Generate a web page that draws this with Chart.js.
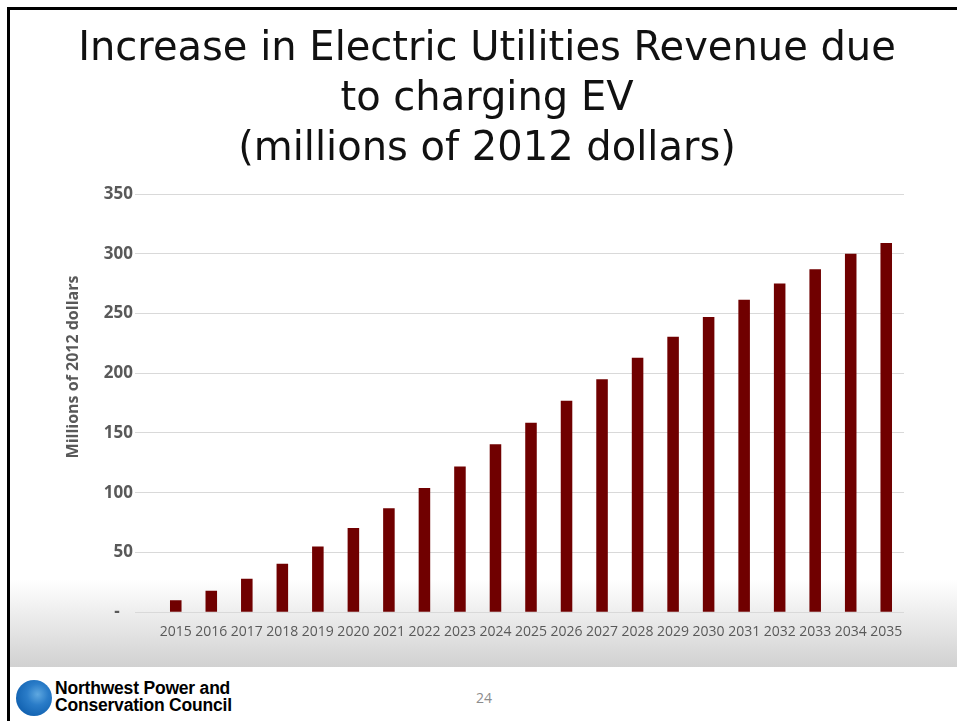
<!DOCTYPE html>
<html>
<head>
<meta charset="utf-8">
<script src="https://cdn.jsdelivr.net/npm/chart.js@4.4.1/dist/chart.umd.min.js"></script>
<style>
  html, body { margin: 0; padding: 0; background: #fff; }
  body { width: 957px; height: 721px; position: relative; overflow: hidden; font-family: 'Open Sans', sans-serif; }
  .band { position: absolute; left: 10px; right: 0; top: 580px; height: 87px; background: linear-gradient(#ffffff, #d1d1d1); }
  .frame-top { position: absolute; left: 7px; top: 7px; right: 0; height: 3px; background: #000; }
  .frame-left { position: absolute; left: 7px; top: 7px; bottom: 0; width: 3px; background: #000; }
  #wrap { position: absolute; left: 0; top: 0; width: 957px; height: 660px; }
  .logo { position: absolute; left: 16px; top: 680px; width: 36px; height: 36px; border-radius: 50%;
          background: radial-gradient(circle at 60% 40%, #5fa8e0 0%, #2a7cc8 35%, #0f5fae 80%, #0b4f96 100%); }
  .org { position: absolute; left: 55px; top: 680px; font-family: 'Liberation Sans', Arial, sans-serif; font-weight: bold;
         font-size: 17.5px; line-height: 17px; letter-spacing: -0.2px; color: #000; }
  .page { position: absolute; left: 476px; top: 688px; font-family: 'Open Sans', sans-serif; font-size: 14px; color: #8c8c8c; }
</style>
</head>
<body>
<div class="band"></div>
<div id="wrap"><canvas id="chart" width="957" height="660"></canvas></div>
<div class="frame-top"></div>
<div class="frame-left"></div>
<div class="logo"></div>
<div class="org">Northwest Power and<br>Conservation Council</div>
<div class="page">24</div>
<script>
// chart data
const years = ['2015', '2016', '2017', '2018', '2019', '2020', '2021', '2022', '2023', '2024', '2025',
               '2026', '2027', '2028', '2029', '2030', '2031', '2032', '2033', '2034', '2035'];
const revenue = [10, 18, 28, 40.5, 55, 70.5, 87, 104, 122, 140.5, 158.5,
                 177, 195, 213, 230.5, 247, 261.5, 275, 287, 300, 309];
const titleLines = ['Increase in Electric Utilities Revenue due', 'to charging EV', '(millions of 2012 dollars)'];
const yAxisTitle = 'Millions of 2012 dollars';
const yMin = 0, yMax = 350, yStep = 50;

// rotated y axis title (sits higher than the plot centre on the slide)
const yTitlePlugin = {
  id: 'yTitle',
  afterDraw(chart) {
    const ctx = chart.ctx;
    ctx.save();
    ctx.translate(73, 367);
    ctx.rotate(-Math.PI / 2);
    ctx.font = "bold 16px 'Open Sans'";
    ctx.fillStyle = '#595959';
    ctx.textAlign = 'center';
    ctx.textBaseline = 'middle';
    ctx.fillText(yAxisTitle, 0, 0);
    ctx.restore();
  }
};

new Chart(document.getElementById('chart'), {
  type: 'bar',
  data: {
    labels: years,
    datasets: [{
      data: revenue,
      backgroundColor: '#700000',
      barPercentage: 0.325,
      categoryPercentage: 1
    }]
  },
  options: {
    responsive: false,
    animation: false,
    devicePixelRatio: 1,
    layout: { padding: { left: 70, right: 53, top: 0, bottom: 9 } },
    plugins: {
      legend: { display: false },
      tooltip: { enabled: false },
      title: {
        display: true,
        text: titleLines,
        color: '#111',
        font: { family: 'DejaVu Sans', size: 40, weight: 'normal', lineHeight: 1.25 },
        padding: { top: 25, bottom: 19 }
      }
    },
    scales: {
      x: {
        grid: { display: false, drawTicks: false },
        border: { display: false },
        ticks: {
          color: '#595959',
          font: { family: 'Open Sans', size: 14 },
          padding: 11,
          autoSkip: false,
          maxRotation: 0
        }
      },
      y: {
        min: yMin,
        max: yMax,
        afterFit(scale) { scale.width = 88; },
        grid: { color: '#d9d9d9', lineWidth: 1, drawTicks: true, tickLength: 23 },
        border: { display: false },
        ticks: {
          stepSize: yStep,
          color: '#595959',
          padding: 2,
          font: { family: 'Open Sans', size: 17, weight: 'bold' },
          callback: v => v === 0 ? '-   ' : v
        }
      }
    }
  },
  plugins: [yTitlePlugin]
});
</script>
</body>
</html>
